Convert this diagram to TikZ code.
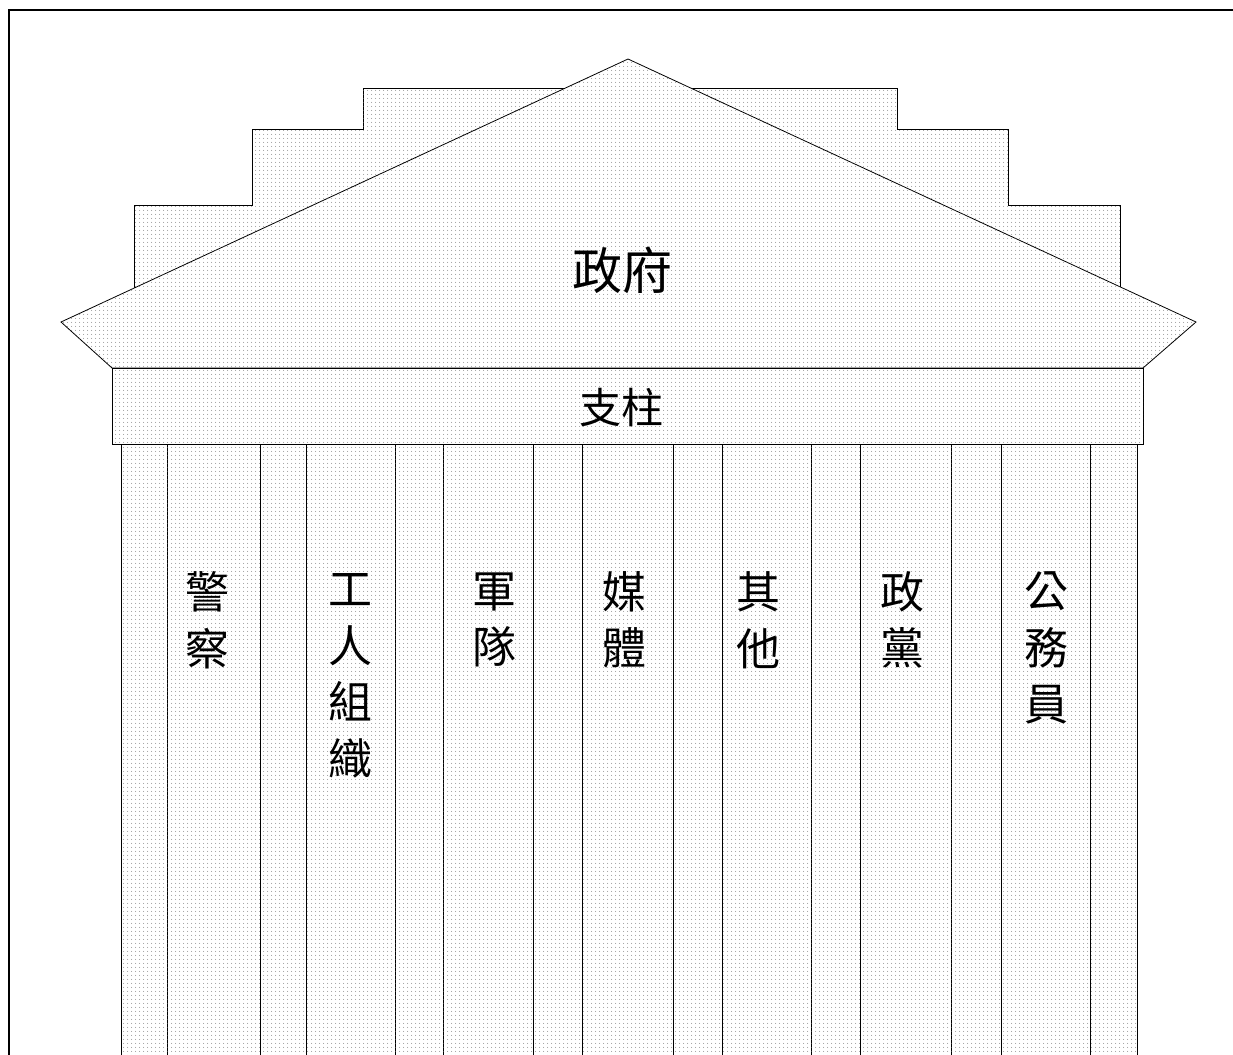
\documentclass[tikz,border=0pt]{standalone}
\usepackage{fontspec}
\setmainfont{Noto Sans CJK TC}
\usetikzlibrary{patterns.meta}
\tikzset{
  dotfill/.style={fill=white,postaction={pattern={Dots[distance=4pt,radius=0.55pt]},pattern color=black!60}},
  part/.style={draw=black,line width=0.8pt,dotfill},
  vlabel/.style={align=center,inner sep=0pt,font=\fontsize{44}{56.5}\selectfont},
}
\begin{document}
\begin{tikzpicture}[x=1pt,y=-1pt]
\useasboundingbox (0,0) rectangle (1233,1054);
\begin{scope}
\clip (0,0) rectangle (1233,1054);
% frame
\draw[line width=1.2pt] (9,1060) -- (9,10) -- (1240,10);
% stepped back
\draw[part] (134,368) -- (134,205) -- (252,205) -- (252,129) -- (363,129) -- (363,88)
  -- (897,88) -- (897,129) -- (1008,129) -- (1008,205) -- (1120,205) -- (1120,368) -- cycle;
% roof
\draw[part] (628,59) -- (1196,322) -- (1143,368) -- (112,368) -- (61,322) -- cycle;
% band
\draw[part] (112,368) rectangle (1143,444);
% pillars
\foreach \a/\b in {121/167,167/260,260/306,306/395,395/443,443/533,533/582,582/673,673/722,722/811,811/860,860/951,951/1001,1001/1090,1090/1137}
  \draw[part] (\a,444) rectangle (\b,1070);
\end{scope}
% labels
\node[inner sep=0pt,font=\fontsize{50}{60}\selectfont] (gov) at (622,270) {政府};
\node[inner sep=0pt,font=\fontsize{42}{50}\selectfont] (pillar) at (621,408) {支柱};
\node[vlabel] (police) at (207,620) {警\\察};
\node[vlabel] (union) at (350,676) {工\\人\\組\\織};
\node[vlabel] (army) at (494,620) {軍\\隊};
\node[vlabel] (media) at (624,620) {媒\\體};
\node[vlabel] (other) at (758,620) {其\\他};
\node[vlabel] (party) at (902,620) {政\\黨};
\node[vlabel] (civil) at (1046,648) {公\\務\\員};
\end{tikzpicture}
\end{document}
